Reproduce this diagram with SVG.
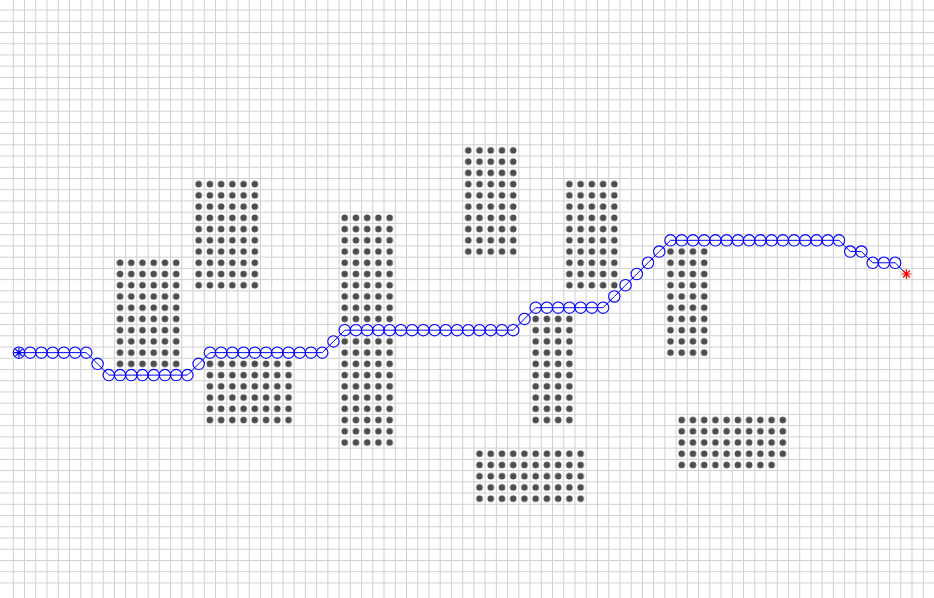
<svg xmlns="http://www.w3.org/2000/svg" width="934" height="598" viewBox="0 0 934 598">
  <style>
    .grid { stroke: #d0d0d0; stroke-width: 1; fill: none; }
    .obst { fill: url(#dots); }
    .route { fill: none; stroke: #0000ff; stroke-width: 1; }
    .ast { fill: none; stroke-width: 1.2; }
  </style>
  <defs>
    <pattern id="dots" patternUnits="userSpaceOnUse" x="13.3" y="10" width="11.234" height="11.234">
      <circle cx="5.617" cy="5.617" r="3.3" fill="#4d4d4d"/>
    </pattern>
    <marker id="ring" markerUnits="userSpaceOnUse" markerWidth="14" markerHeight="14" refX="7" refY="7" overflow="visible">
      <circle cx="7" cy="7" r="5.7" fill="none" stroke="#0000ff" stroke-width="1.1"/>
    </marker>
    <path id="asterisk" d="M-4.8 0H4.8M0 -4.8V4.8M-3.5 -3.5L3.5 3.5M-3.5 3.5L3.5 -3.5"/>
  </defs>
  <rect width="934" height="598" fill="#ffffff"/>
  <g id="grid" class="grid">
    <path d="M13.3 0V598M24.53 0V598M35.77 0V598M47 0V598M58.24 0V598M69.47 0V598M80.7 0V598M91.94 0V598M103.17 0V598M114.41 0V598M125.64 0V598M136.87 0V598M148.11 0V598M159.34 0V598M170.58 0V598M181.81 0V598M193.04 0V598M204.28 0V598M215.51 0V598M226.75 0V598M237.98 0V598M249.21 0V598M260.45 0V598M271.68 0V598M282.92 0V598M294.15 0V598M305.38 0V598M316.62 0V598M327.85 0V598M339.09 0V598M350.32 0V598M361.55 0V598M372.79 0V598M384.02 0V598M395.26 0V598M406.49 0V598M417.72 0V598M428.96 0V598M440.19 0V598M451.43 0V598M462.66 0V598M473.89 0V598M485.13 0V598M496.36 0V598M507.6 0V598M518.83 0V598M530.06 0V598M541.3 0V598M552.53 0V598M563.77 0V598M575 0V598M586.23 0V598M597.47 0V598M608.7 0V598M619.94 0V598M631.17 0V598M642.4 0V598M653.64 0V598M664.87 0V598M676.11 0V598M687.34 0V598M698.57 0V598M709.81 0V598M721.04 0V598M732.28 0V598M743.51 0V598M754.74 0V598M765.98 0V598M777.21 0V598M788.45 0V598M799.68 0V598M810.91 0V598M822.15 0V598M833.38 0V598M844.62 0V598M855.85 0V598M867.08 0V598M878.32 0V598M889.55 0V598M900.79 0V598M912.02 0V598M923.25 0V598"/>
    <path d="M0 10H934M0 21.23H934M0 32.47H934M0 43.7H934M0 54.94H934M0 66.17H934M0 77.4H934M0 88.64H934M0 99.87H934M0 111.11H934M0 122.34H934M0 133.57H934M0 144.81H934M0 156.04H934M0 167.28H934M0 178.51H934M0 189.74H934M0 200.98H934M0 212.21H934M0 223.45H934M0 234.68H934M0 245.91H934M0 257.15H934M0 268.38H934M0 279.62H934M0 290.85H934M0 302.08H934M0 313.32H934M0 324.55H934M0 335.79H934M0 347.02H934M0 358.25H934M0 369.49H934M0 380.72H934M0 391.96H934M0 403.19H934M0 414.42H934M0 425.66H934M0 436.89H934M0 448.13H934M0 459.36H934M0 470.59H934M0 481.83H934M0 493.06H934M0 504.3H934M0 515.53H934M0 526.76H934M0 538H934M0 549.23H934M0 560.47H934M0 571.7H934M0 582.93H934"/>
  </g>
  <g id="obstacles">
    <g id="obstacle-a"><rect class="obst" x="114.41" y="257.15" width="67.4" height="112.34"/></g>
    <g id="obstacle-b"><rect class="obst" x="193.04" y="178.51" width="67.4" height="112.34"/></g>
    <g id="obstacle-c"><rect class="obst" x="204.28" y="358.25" width="89.87" height="67.4"/></g>
    <g id="obstacle-d"><rect class="obst" x="339.09" y="212.21" width="56.17" height="112.34"/><rect class="obst" x="339.09" y="335.79" width="56.17" height="112.34"/></g>
    <g id="obstacle-e"><rect class="obst" x="462.66" y="144.81" width="56.17" height="112.34"/></g>
    <g id="obstacle-f"><rect class="obst" x="563.77" y="178.51" width="56.17" height="112.34"/></g>
    <g id="obstacle-g"><rect class="obst" x="530.06" y="313.32" width="44.94" height="112.34"/></g>
    <g id="obstacle-h"><rect class="obst" x="473.89" y="448.13" width="112.34" height="56.17"/></g>
    <g id="obstacle-i"><rect class="obst" x="664.87" y="245.91" width="44.94" height="112.34"/></g>
    <g id="obstacle-j"><rect class="obst" x="676.11" y="414.42" width="112.34" height="44.94"/><rect class="obst" x="676.11" y="459.36" width="101.11" height="11.234"/></g>
  </g>
  <g id="connectors">
    <polyline id="route" class="route" marker-start="url(#ring)" marker-mid="url(#ring)"
      points="18.92,352.64 30.15,352.64 41.39,352.64 52.62,352.64 63.86,352.64 75.09,352.64 86.32,352.64 97.56,363.87 108.79,375.11 120.03,375.11 131.26,375.11 142.49,375.11 153.73,375.11 164.96,375.11 176.2,375.11 187.43,375.11 198.66,363.87 209.9,352.64 221.13,352.64 232.37,352.64 243.6,352.64 254.83,352.64 266.07,352.64 277.3,352.64 288.54,352.64 299.77,352.64 311,352.64 322.24,352.64 333.47,341.41 344.71,330.17 355.94,330.17 367.17,330.17 378.41,330.17 389.64,330.17 400.88,330.17 412.11,330.17 423.34,330.17 434.58,330.17 445.81,330.17 457.05,330.17 468.28,330.17 479.51,330.17 490.75,330.17 501.98,330.17 513.22,330.17 524.45,318.94 535.68,307.7 546.92,307.7 558.15,307.7 569.39,307.7 580.62,307.7 591.85,307.7 603.09,307.7 614.32,296.47 625.56,285.24 636.79,274 648.02,262.77 659.26,251.53 670.49,240.3 681.73,240.3 692.96,240.3 704.19,240.3 715.43,240.3 726.66,240.3 737.9,240.3 749.13,240.3 760.36,240.3 771.6,240.3 782.83,240.3 794.07,240.3 805.3,240.3 816.53,240.3 827.77,240.3 839,240.3 850.24,251.53 861.47,251.53 872.7,262.77 883.94,262.77 895.17,262.77 906.41,274"/>
  </g>
  <g id="start"><use href="#asterisk" class="ast" stroke="#0000ff" transform="translate(18.92 352.64)"/></g>
  <g id="goal"><use href="#asterisk" class="ast" stroke="#ff0000" transform="translate(906.41 274)"/></g>
</svg>
